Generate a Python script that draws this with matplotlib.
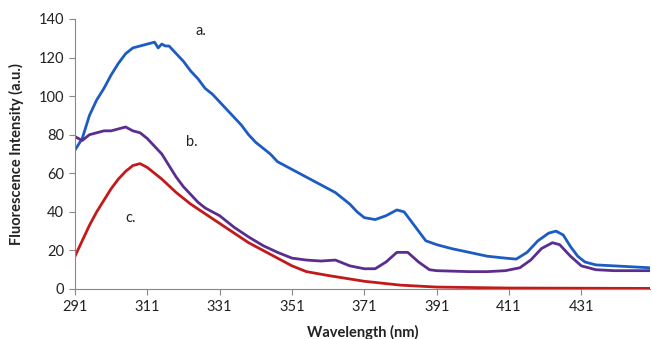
import matplotlib
matplotlib.use("Agg")
import matplotlib.pyplot as plt

# ─── Spectra ────────────────────────────────────────────────
wl_a = [291, 293, 295, 297, 299, 301, 303, 305, 307, 309, 311, 313, 314, 315, 316, 317,
        319, 321, 323, 325, 327, 329, 331, 333, 335, 337, 339, 341, 343, 345, 347,
        349, 351, 355, 359, 363, 367, 369, 371, 374, 377, 380, 382, 384, 386, 388,
        391, 395, 400, 405, 410, 413, 416, 419, 422, 424, 426, 428, 430, 432, 435,
        440, 445, 450]
int_a = [72, 78, 90, 98, 104, 111, 117, 122, 125, 126, 127, 128, 125, 127, 126, 126,
         122, 118, 113, 109, 104, 101, 97, 93, 89, 85, 80, 76, 73, 70, 66,
         64, 62, 58, 54, 50, 44, 40, 37, 36, 38, 41, 40, 35, 30, 25,
         23, 21, 19, 17, 16, 15.5, 19, 25, 29, 30, 28, 22, 17, 14, 12.5,
         12, 11.5, 11]

wl_b = [291, 293, 295, 297, 299, 301, 303, 305, 307, 309, 311, 313, 315, 317, 319,
        321, 323, 325, 327, 329, 331, 335, 339, 343, 347, 351, 355, 359, 363, 367,
        371, 374, 377, 380, 383, 386, 389, 391, 400, 405, 410, 414, 417, 420, 423,
        425, 428, 431, 435, 440, 450]
int_b = [79, 77, 80, 81, 82, 82, 83, 84, 82, 81, 78, 74, 70, 64, 58,
         53, 49, 45, 42, 40, 38, 32, 27, 22.5, 19, 16, 15, 14.5, 15, 12,
         10.5, 10.5, 14, 19, 19, 14, 10, 9.5, 9, 9, 9.5, 11, 15, 21, 24,
         23, 17, 12, 10, 9.5, 9.5]

wl_c = [291, 293, 295, 297, 299, 301, 303, 305, 307, 309, 311, 315, 319, 323, 327,
        331, 335, 339, 343, 347, 351, 355, 361, 371, 381, 391, 411, 450]
int_c = [17, 25, 33, 40, 46, 52, 57, 61, 64, 65, 63, 57, 50, 44, 39,
         34, 29, 24, 20, 16, 12, 9, 7, 4, 2, 1, 0.5, 0.3]

x_ticks = [291, 311, 331, 351, 371, 391, 411, 431]
y_ticks = [0, 20, 40, 60, 80, 100, 120, 140]

labels = ["a.", "b.", "c."]
label_pos = [(325.8, 134), (323.3, 76), (306.5, 37)]

plt.rcParams["font.family"] = ["Lato", "DejaVu Sans"]

fig = plt.figure(figsize=(6.52, 3.39), dpi=100, facecolor="white")
ax = fig.add_axes([0.115, 0.1475, 0.882, 0.7965])

ax.plot(wl_a, int_a, color="#1c5cc2", lw=2.0)
ax.plot(wl_b, int_b, color="#5a2d8f", lw=2.0)
ax.plot(wl_c, int_c, color="#c21a1a", lw=2.0)

for txt, (x, y) in zip(labels, label_pos):
    ax.text(x, y, txt, fontsize=10.5, ha="center", va="center", color="#222")

ax.set_xlim(291, 450)
ax.set_ylim(0, 140)
ax.set_xticks(x_ticks)
ax.set_yticks(y_ticks)
ax.tick_params(labelsize=10.5, colors="#222", length=4, color="#888", direction="out",
               pad=4)
ax.set_xlabel("Wavelength (nm)", fontsize=10.5, fontweight="bold", color="#222",
              labelpad=8)
ax.set_ylabel("Fluorescence Intensity (a.u.)", fontsize=10.5, fontweight="bold",
              color="#222", labelpad=10)

for s in ["top", "right"]:
    ax.spines[s].set_visible(False)
for s in ["left", "bottom"]:
    ax.spines[s].set_color("#888")

fig.savefig("out.png", dpi=100, facecolor="white")
